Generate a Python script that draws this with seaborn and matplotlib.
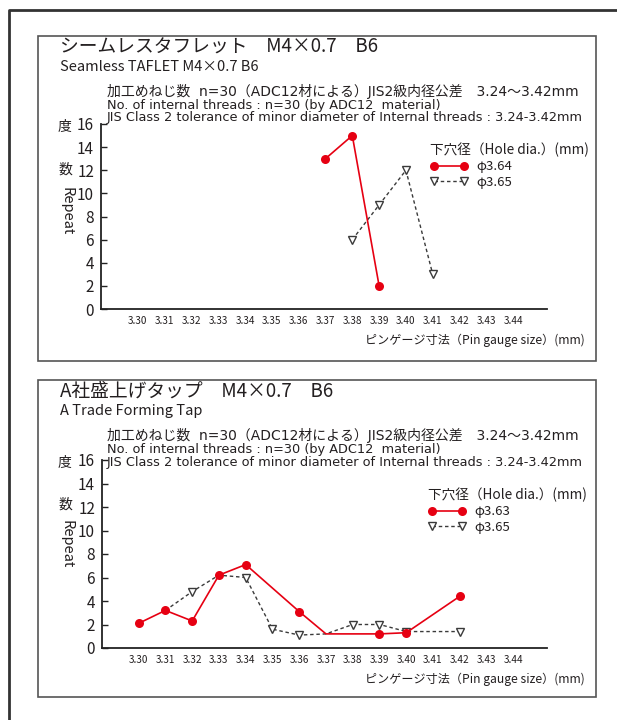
import numpy as np
import pandas as pd
import matplotlib.pyplot as plt
import matplotlib.lines as mlines
import matplotlib.patches as mpatches
import seaborn as sns

# pin gauge sizes on the x axis
pin_ticks = [3.30, 3.31, 3.32, 3.33, 3.34, 3.35, 3.36, 3.37, 3.38, 3.39, 3.40, 3.41, 3.42, 3.43, 3.44]
pin_labels = ["3.30", "3.31", "3.32", "3.33", "3.34", "3.35", "3.36", "3.37",
              "3.38", "3.39", "3.40", "3.41", "3.42", "3.43", "3.44"]
y_ticks = [0, 2, 4, 6, 8, 10, 12, 14, 16]

# chart 1 : seamless taflet
taflet_red_x = [3.37, 3.38, 3.39]
taflet_red_y = [13, 15, 2]
taflet_grey_x = [3.38, 3.39, 3.40, 3.41]
taflet_grey_y = [6, 9, 12, 3]

# chart 2 : A trade forming tap
forming_red_x = [3.30, 3.31, 3.32, 3.33, 3.34, 3.36, 3.37, 3.39, 3.40, 3.42]
forming_red_y = [2.1, 3.2, 2.3, 6.2, 7.1, 3.1, 1.2, 1.2, 1.3, 4.4]
forming_red_marks = [0, 1, 2, 3, 4, 5, 7, 8, 9]
forming_grey_x = [3.31, 3.32, 3.33, 3.34, 3.35, 3.36, 3.37, 3.38, 3.39, 3.40, 3.42]
forming_grey_y = [3.2, 4.8, 6.2, 6.0, 1.6, 1.1, 1.2, 2.0, 2.0, 1.4, 1.4]
forming_grey_marks = [1, 3, 4, 5, 7, 8, 9, 10]

RED = "#e60012"
GREY = "#3a3a3a"
TXT = "#231f20"

sns.set_theme(style="white")
plt.rcParams['font.family'] = ['Noto Sans CJK JP', 'DejaVu Sans']
LATIN = ['DejaVu Sans', 'Noto Sans CJK JP']

W, H = 617, 720
fig = plt.figure(figsize=(W / 100, H / 100), dpi=100)


def fx(x):
    return x / W


def fy(y):
    return 1 - y / H


def txt(x, y, s, size, ha='left', **kw):
    fig.text(fx(x), fy(y), s, fontsize=size, ha=ha, va='center', color=TXT, **kw)


# outer frame
fig.add_artist(mlines.Line2D([fx(9), fx(9), fx(617)], [fy(720), fy(10), fy(10)],
                             transform=fig.transFigure, color="#333333", lw=2))


def panel(top, bottom, ax_rect, title, subtitle, series, label_red, y_lab, leg_pos, x_lab_y):
    # box round the panel
    fig.add_artist(mpatches.Rectangle((fx(38), fy(bottom)), (596 - 38) / W, (bottom - top) / H,
                                      transform=fig.transFigure, fill=False,
                                      edgecolor="#555555", lw=1.2))
    txt(60, top + 11, title, 13.5)
    txt(60, top + 31, subtitle, 10.5)
    txt(107, top + 55, "加工めねじ数  n=30（ADC12材による）JIS2級内径公差　3.24〜3.42mm", 10,
        family=LATIN)
    txt(107, top + 69, "No. of internal threads : n=30 (by ADC12  material)", 9.3, family=LATIN)
    txt(107, top + 82, "JIS Class 2 tolerance of minor diameter of Internal threads : 3.24-3.42mm",
        9.3, family=LATIN)

    l, t, r, b = ax_rect
    ax = fig.add_axes([fx(l), fy(b), (r - l) / W, (b - t) / H])
    (rx, ry, rmark), (gx, gy, gmark) = series
    sns.lineplot(x=gx, y=gy, ax=ax, color=GREY, lw=1.0, linestyle=(0, (2.5, 2)),
                 marker='v', markersize=6, markerfacecolor='white', markeredgecolor=GREY,
                 markeredgewidth=1.0, markevery=gmark, zorder=2)
    sns.lineplot(x=rx, y=ry, ax=ax, color=RED, lw=1.2, marker='o', markersize=6.5,
                 markeredgewidth=0, markevery=rmark, zorder=3)
    ax.set_xlim(3.2863, 3.4526)
    ax.set_ylim(0, 16)
    ax.set_xticks(pin_ticks)
    ax.set_xticklabels(pin_labels)
    ax.set_yticks(y_ticks)
    ax.tick_params(axis='x', length=0, pad=5, labelsize=7.2, colors=TXT)
    ax.tick_params(axis='y', direction='in', length=4, width=1, left=True,
                   pad=5, labelsize=11, colors=TXT)
    ax.tick_params(axis='y', color="#222222")
    for side in ['top', 'right']:
        ax.spines[side].set_visible(False)
    for side in ['left', 'bottom']:
        ax.spines[side].set_color("#222222")
        ax.spines[side].set_linewidth(1.3)
    ax.set_xlabel("")
    ax.set_ylabel("")
    ax.patch.set_alpha(0)

    # vertical y label
    txt(65, y_lab[0], "度", 10, ha='center')
    txt(65, y_lab[1], "数", 10, ha='center')
    txt(66, y_lab[2], "Repeat", 10.5, ha='center', rotation=-90)

    h_red = mlines.Line2D([], [], color=RED, lw=1.2, marker='o', markersize=6.5, markeredgewidth=0)
    h_grey = mlines.Line2D([], [], color=GREY, lw=1.0, linestyle=(0, (2.5, 2)), marker='v',
                           markersize=6, markerfacecolor='white', markeredgecolor=GREY)
    leg = ax.legend(handles=[h_red, h_grey], labels=[label_red, "φ3.65"],
                    title="下穴径（Hole dia.）(mm)", loc='upper left',
                    bbox_to_anchor=(fx(leg_pos[0]), fy(leg_pos[1])), bbox_transform=fig.transFigure,
                    frameon=False, numpoints=2, handlelength=2.9, handletextpad=0.6,
                    fontsize=9.5, title_fontsize=9.8, alignment='left', borderpad=0,
                    labelspacing=0.2, borderaxespad=0)
    for t_ in leg.get_texts():
        t_.set_color(TXT)
    leg.get_title().set_color(TXT)

    txt(585, x_lab_y, "ピンゲージ寸法（Pin gauge size）(mm)", 8.7, ha='right')
    return ax


panel(36, 361, (101, 124, 547, 309), "シームレスタフレット　M4×0.7　B6",
      "Seamless TAFLET M4×0.7 B6",
      [(taflet_red_x, taflet_red_y, [0, 1, 2]), (taflet_grey_x, taflet_grey_y, [0, 1, 2, 3])],
      "φ3.64", (127, 170, 211), (430, 143), 340)

panel(380, 697, (102, 460, 547, 648), "A社盛上げタップ　M4×0.7　B6",
      "A Trade Forming Tap",
      [(forming_red_x, forming_red_y, forming_red_marks),
       (forming_grey_x, forming_grey_y, forming_grey_marks)],
      "φ3.63", (463, 505, 544), (428, 488), 679)

fig.savefig("out.png", dpi=100)
